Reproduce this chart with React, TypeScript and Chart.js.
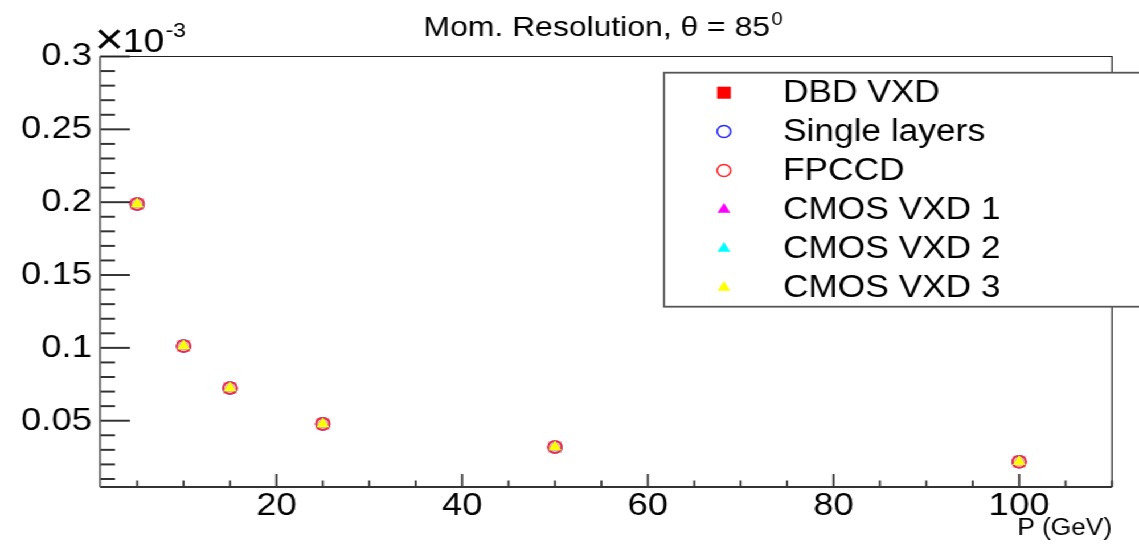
import React, { useEffect, useRef } from 'react';
import { Chart, registerables } from 'chart.js';

Chart.register(...registerables);

// ---- data (y in units of 1e-3) ----
const momenta = [5, 10, 15, 25, 50, 100];
const dbdVxd = [0.1988, 0.1013, 0.0725, 0.0478, 0.032, 0.0218];
const singleLayers = [0.1988, 0.1013, 0.0725, 0.0478, 0.032, 0.0218];
const fpccd = [0.1988, 0.1013, 0.0725, 0.0478, 0.032, 0.0218];
const cmosVxd1 = [0.1988, 0.1013, 0.0725, 0.0478, 0.032, 0.0218];
const cmosVxd2 = [0.1988, 0.1013, 0.0725, 0.0478, 0.032, 0.0218];
const cmosVxd3 = [0.1988, 0.1013, 0.0725, 0.0478, 0.032, 0.0218];
const seriesNames = ['DBD VXD', 'Single layers', 'FPCCD', 'CMOS VXD 1', 'CMOS VXD 2', 'CMOS VXD 3'];

const xTickValues = [20, 40, 60, 80, 100];
const xTickLabels = ['20', '40', '60', '80', '100'];
const yTickValues = [0.05, 0.1, 0.15, 0.2, 0.25, 0.3];
const yTickLabels = ['0.05', '0.1', '0.15', '0.2', '0.25', '0.3'];

const titleText = 'Mom. Resolution, \u03b8 = 85';
const titleSup = '0';
const xAxisTitle = 'P (GeV)';
const yExponentTimes = '\u00d7';
const yExponentBase = '10';
const yExponentSup = '-3';

// ---- layout (unstretched coordinates; page is stretched horizontally) ----
const W0 = 1000;
const H0 = 544;
const STRETCH = 1139 / W0;
const FONT = '"Liberation Sans", Arial, Helvetica, sans-serif';

type Style = { shape: 'rect' | 'circle' | 'triangle'; fill: string; plotFill: string; stroke: string; r: number; bw: number };
const styles: Style[] = [
  { shape: 'rect', fill: '#ff0000', plotFill: 'rgba(255,40,60,0.35)', stroke: '#ff0000', r: 8.5, bw: 0 },
  { shape: 'circle', fill: 'rgba(0,0,0,0)', plotFill: 'rgba(0,0,0,0)', stroke: '#2b2bff', r: 6, bw: 1.6 },
  { shape: 'circle', fill: 'rgba(0,0,0,0)', plotFill: 'rgba(0,0,0,0)', stroke: '#ff2b2b', r: 6, bw: 1.6 },
  { shape: 'triangle', fill: '#ff00ff', plotFill: '#ff00ff', stroke: '#ff00ff', r: 6.5, bw: 0 },
  { shape: 'triangle', fill: '#00ffff', plotFill: '#00ffff', stroke: '#00ffff', r: 6.5, bw: 0 },
  { shape: 'triangle', fill: '#ffff00', plotFill: '#ffff00', stroke: '#ffff00', r: 6.5, bw: 0 },
];
const seriesValues = [dbdVxd, singleLayers, fpccd, cmosVxd1, cmosVxd2, cmosVxd3];

function drawMarker(ctx: CanvasRenderingContext2D, s: Style, x: number, y: number) {
  ctx.save();
  ctx.beginPath();
  if (s.shape === 'rect') {
    const h = s.r * Math.SQRT1_2;
    ctx.rect(x - h, y - h, 2 * h, 2 * h);
  } else if (s.shape === 'circle') {
    ctx.arc(x, y, s.r, 0, Math.PI * 2);
  } else {
    let a = 0;
    ctx.moveTo(x + Math.sin(a) * s.r, y - Math.cos(a) * s.r);
    a += (2 * Math.PI) / 3;
    ctx.lineTo(x + Math.sin(a) * s.r, y - Math.cos(a) * s.r);
    a += (2 * Math.PI) / 3;
    ctx.lineTo(x + Math.sin(a) * s.r, y - Math.cos(a) * s.r);
    ctx.closePath();
  }
  ctx.fillStyle = s.fill;
  ctx.fill();
  if (s.bw > 0) {
    ctx.lineWidth = s.bw;
    ctx.strokeStyle = s.stroke;
    ctx.stroke();
  }
  ctx.restore();
}

const rootPlugin = {
  id: 'rootDecor',
  afterDraw(chart: any) {
    const ctx: CanvasRenderingContext2D = chart.ctx;
    const { left, right, top, bottom } = chart.chartArea;
    const xs = chart.scales.x;
    const ys = chart.scales.y;
    ctx.save();

    // ticks on y axis (inward)
    ctx.strokeStyle = '#333';
    ctx.lineWidth = 2;
    for (let k = 1; k <= 30; k++) {
      const v = k / 100;
      if (v < ys.min || v > ys.max) continue;
      const py = ys.getPixelForValue(v);
      const major = k % 5 === 0;
      const len = major ? 26.3 : 13.2;
      ctx.beginPath();
      ctx.moveTo(left, py);
      ctx.lineTo(left + len, py);
      ctx.stroke();
    }
    // ticks on x axis (inward)
    ctx.lineWidth = 1.8;
    for (let v = 5; v <= 110; v += 5) {
      if (v < xs.min || v > xs.max) continue;
      const px = xs.getPixelForValue(v);
      const major = v % 20 === 0;
      const len = major ? 13 : 6.5;
      ctx.beginPath();
      ctx.moveTo(px, bottom);
      ctx.lineTo(px, bottom - len);
      ctx.stroke();
    }

    // frame
    ctx.strokeStyle = '#222';
    ctx.lineWidth = 1.2;
    ctx.beginPath();
    ctx.moveTo(left, top);
    ctx.lineTo(right, top);
    ctx.lineTo(right, bottom);
    ctx.stroke();
    ctx.strokeStyle = '#333';
    ctx.lineWidth = 2;
    ctx.beginPath();
    ctx.moveTo(right, bottom);
    ctx.lineTo(left, bottom);
    ctx.stroke();
    ctx.strokeStyle = '#666';
    ctx.lineWidth = 1.8;
    ctx.beginPath();
    ctx.moveTo(left, bottom);
    ctx.lineTo(left, top);
    ctx.stroke();

    // title
    ctx.fillStyle = '#000';
    ctx.textBaseline = 'alphabetic';
    ctx.textAlign = 'left';
    ctx.font = `28px ${FONT}`;
    const wMain = ctx.measureText(titleText).width;
    ctx.font = `18px ${FONT}`;
    const wSup = ctx.measureText(titleSup).width;
    const tx = 529.5 - (wMain + wSup + 1) / 2;
    ctx.font = `28px ${FONT}`;
    ctx.fillText(titleText, tx, 36);
    ctx.font = `18px ${FONT}`;
    ctx.fillText(titleSup, tx + wMain + 1, 25);

    // exponent label
    ctx.font = `44px ${FONT}`;
    ctx.fillText(yExponentTimes, 83, 54);
    const wTimes = ctx.measureText(yExponentTimes).width;
    ctx.font = `33px ${FONT}`;
    ctx.fillText(yExponentBase, 83 + wTimes - 1, 52);
    const wBase = ctx.measureText(yExponentBase).width;
    ctx.font = `20px ${FONT}`;
    ctx.fillText(yExponentSup, 83 + wTimes + wBase, 37);

    // x axis title
    ctx.font = `23px ${FONT}`;
    ctx.textAlign = 'right';
    ctx.fillText(xAxisTitle, right, 535);

    // legend box
    const lx = 583;
    const ly = 72.7;
    const lb = 306.7;
    ctx.fillStyle = '#fff';
    ctx.fillRect(lx, ly, W0 + 20 - lx, lb - ly);
    ctx.strokeStyle = '#555';
    ctx.lineWidth = 1.8;
    ctx.strokeRect(lx, ly, W0 + 20 - lx, lb - ly);
    const rowY = [92.7, 131.5, 170.5, 209.5, 248.5, 287.5];
    ctx.font = `31px ${FONT}`;
    ctx.textAlign = 'left';
    ctx.textBaseline = 'middle';
    for (let i = 0; i < seriesNames.length; i++) {
      drawMarker(ctx, styles[i], 635.6, rowY[i]);
      ctx.fillStyle = '#000';
      ctx.fillText(seriesNames[i], 687.4, rowY[i] + 1);
    }
    ctx.restore();
  },
};

export default function App() {
  const ref = useRef<HTMLCanvasElement | null>(null);
  useEffect(() => {
    if (!ref.current) return;
    const datasets = seriesNames.map((name, i) => ({
      label: name,
      data: momenta.map((m, j) => ({ x: m, y: seriesValues[i][j] })),
      pointStyle: styles[i].shape,
      pointRadius: styles[i].r,
      pointBackgroundColor: styles[i].plotFill,
      pointBorderColor: styles[i].stroke,
      pointBorderWidth: styles[i].bw,
      showLine: false,
      order: seriesNames.length - i,
    }));
    const chart = new Chart(ref.current, {
      type: 'scatter',
      data: { datasets },
      options: {
        animation: false,
        responsive: true,
        maintainAspectRatio: false,
        devicePixelRatio: 1,
        layout: { padding: { left: 0, right: W0 - 976.3, top: 56.5, bottom: 0 } },
        plugins: { legend: { display: false }, tooltip: { enabled: false }, title: { display: false } },
        events: [],
        scales: {
          x: {
            type: 'linear',
            min: 1,
            max: 110,
            grid: { display: false, drawTicks: false },
            border: { display: false },
            afterBuildTicks: (scale: any) => {
              scale.ticks = xTickValues.map((v) => ({ value: v }));
            },
            afterFit: (scale: any) => {
              scale.height = H0 - 487;
            },
            ticks: {
              autoSkip: false,
              maxRotation: 0,
              padding: 0,
              color: '#000',
              font: { family: FONT, size: 32 },
              callback: (v: any) => {
                const i = xTickValues.indexOf(Number(v));
                return i >= 0 ? xTickLabels[i] : '';
              },
            },
          },
          y: {
            type: 'linear',
            min: 0.0045,
            max: 0.3,
            grid: { display: false, drawTicks: false },
            border: { display: false },
            afterBuildTicks: (scale: any) => {
              scale.ticks = yTickValues.map((v) => ({ value: v }));
            },
            afterFit: (scale: any) => {
              scale.width = 87.8;
            },
            ticks: {
              autoSkip: false,
              padding: 7,
              color: '#000',
              font: { family: FONT, size: 32 },
              callback: (v: any) => {
                const i = yTickValues.findIndex((t) => Math.abs(t - Number(v)) < 1e-9);
                return i >= 0 ? yTickLabels[i] : '';
              },
            },
          },
        },
      },
      plugins: [rootPlugin],
    } as any);
    return () => chart.destroy();
  }, []);

  return (
    <div
      style={{
        position: 'fixed',
        left: 0,
        top: 0,
        width: W0 + 'px',
        height: H0 + 'px',
        transform: `scaleX(${STRETCH})`,
        transformOrigin: '0 0',
        background: '#fff',
      }}
    >
      <canvas ref={ref} />
    </div>
  );
}
